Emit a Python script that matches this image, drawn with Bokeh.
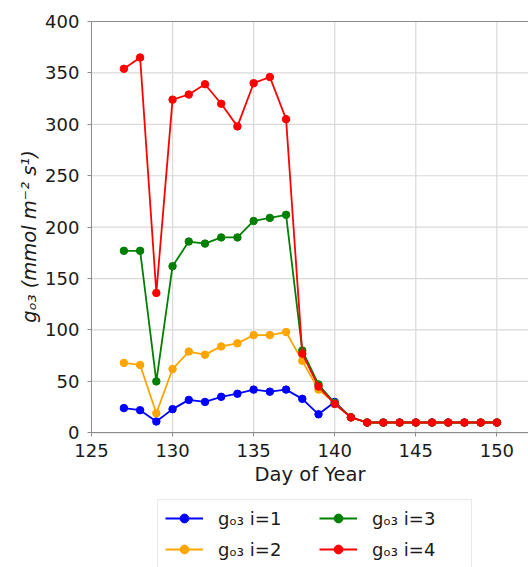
import math
from bokeh.plotting import figure
from bokeh.models import FixedTicker, Legend, LegendItem, Range1d, Label
from bokeh.embed import file_html
from bokeh.resources import INLINE

days = list(range(127, 151))
g_i1 = [24, 22, 11, 23, 32, 30, 35, 38, 42, 40, 42, 33, 18, 30, 15,
        10, 10, 10, 10, 10, 10, 10, 10, 10]
g_i2 = [68, 66, 19, 62, 79, 76, 84, 87, 95, 95, 98, 70, 42, 29, 15,
        10, 10, 10, 10, 10, 10, 10, 10, 10]
g_i3 = [177, 177, 50, 162, 186, 184, 190, 190, 206, 209, 212, 80, 47, 29, 15,
        10, 10, 10, 10, 10, 10, 10, 10, 10]
g_i4 = [354, 365, 136, 324, 329, 339, 320, 298, 340, 346, 305, 77, 45, 28, 15,
        10, 10, 10, 10, 10, 10, 10, 10, 10]

series = [g_i1, g_i2, g_i3, g_i4]
labels = ["gₒ₃ i=1", "gₒ₃ i=2", "gₒ₃ i=3", "gₒ₃ i=4"]
colors = ["blue", "orange", "green", "red"]

x_ticks = [125, 130, 135, 140, 145, 150]
y_ticks = [0, 50, 100, 150, 200, 250, 300, 350, 400]
x_min, x_max = 125, 151.95
y_min, y_max = 0, 400

FONT = "DejaVu Sans"
SPINE = "#8c8c8c"
TEXT = "#1a1a1a"
GRID = "#d9d9d9"

# the frame fills the whole page; the axes are pinned at x=125 and y=0
p = figure(width=528, height=567, output_backend="svg", toolbar_location=None,
           x_range=Range1d(119.39, x_max), y_range=Range1d(-131.0, 420.42),
           min_border_left=0, min_border_right=0, min_border_top=0,
           min_border_bottom=0)
p.outline_line_color = None
p.background_fill_color = "white"
p.border_fill_color = "white"
p.xgrid.visible = False
p.ygrid.visible = False

# grid lines limited to the data area
p.segment(x0=x_ticks, y0=[y_min] * len(x_ticks), x1=x_ticks, y1=[y_max] * len(x_ticks),
          line_color=GRID, line_width=1.2)
p.segment(x0=[x_min] * len(y_ticks), y0=y_ticks, x1=[x_max] * len(y_ticks), y1=y_ticks,
          line_color=GRID, line_width=1.2)
# top spine
p.segment(x0=[x_min], y0=[y_max], x1=[x_max], y1=[y_max], line_color=SPINE, line_width=1)

items = []
for vals, lab, col in zip(series, labels, colors):
    ln = p.line(days, vals, line_color=col, line_width=1.8)
    sc = p.scatter(days, vals, size=7.5, fill_color=col, line_color=col)
    items.append(LegendItem(label=lab, renderers=[ln, sc]))

p.xaxis.ticker = FixedTicker(ticks=x_ticks)
p.yaxis.ticker = FixedTicker(ticks=y_ticks)
p.xaxis.fixed_location = y_min
p.yaxis.fixed_location = x_min
p.xaxis.bounds = (x_min, x_max)
p.yaxis.bounds = (y_min, y_max)

for ax in (p.xaxis, p.yaxis):
    ax.axis_line_color = SPINE
    ax.axis_line_width = 1
    ax.major_tick_line_color = SPINE
    ax.major_tick_out = 4
    ax.major_tick_in = 0
    ax.minor_tick_line_color = None
    ax.major_label_text_font = FONT
    ax.major_label_text_font_size = "18px"
    ax.major_label_text_color = TEXT
    ax.axis_label_text_font = FONT
    ax.axis_label_text_font_size = "19.5px"
    ax.axis_label_text_color = TEXT

p.xaxis.axis_label = "Day of Year"
p.xaxis.axis_label_text_font_style = "normal"
p.xaxis.major_label_standoff = 7
p.xaxis.axis_label_standoff = 3
p.yaxis.major_label_standoff = 8

ylab = Label(x=29, y=567 - 236, x_units="screen", y_units="screen",
             text="gₒ₃ (mmol m⁻² s¹)", angle=math.pi / 2,
             text_align="center", text_baseline="middle",
             text_font=FONT, text_font_size="19.5px", text_font_style="italic",
             text_color=TEXT)
p.add_layout(ylab)

legend = Legend(items=items, location=(157, -1), orientation="vertical", nrows=2,
                label_text_font=FONT, label_text_font_size="18px",
                label_text_color=TEXT,
                glyph_width=38, glyph_height=22, label_height=22, label_width=92,
                label_standoff=15, spacing=9, padding=7, margin=0,
                border_line_color="#d5d5d5", border_line_width=1,
                background_fill_color="white", background_fill_alpha=1)
p.add_layout(legend)

open("out.html", "w").write(file_html(p, INLINE))
